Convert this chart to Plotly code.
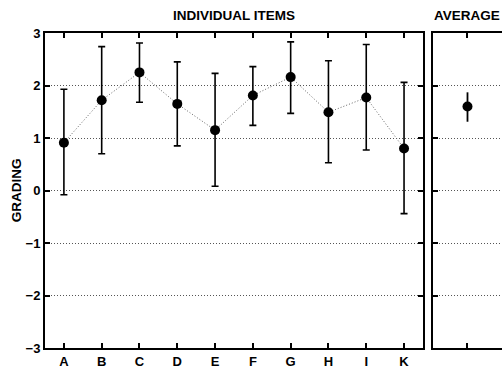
import plotly.graph_objects as go

items = ["A", "B", "C", "D", "E", "F", "G", "H", "I", "K"]
means = [0.91, 1.72, 2.25, 1.65, 1.15, 1.81, 2.16, 1.49, 1.77, 0.80]
upper = [1.93, 2.74, 2.81, 2.45, 2.23, 2.36, 2.83, 2.47, 2.78, 2.06]
lower = [-0.08, 0.70, 1.68, 0.85, 0.08, 1.24, 1.47, 0.53, 0.77, -0.44]

avg_mean = [1.60]
avg_upper = [1.87]
avg_lower = [1.31]

y_ticks = [3, 2, 1, 0, -1, -2, -3]
y_ticktext = ["3", "2", "1", "0", "\u22121", "\u22122", "\u22123"]

xpos = list(range(1, len(items) + 1))
err_plus = [u - m for u, m in zip(upper, means)]
err_minus = [m - l for m, l in zip(means, lower)]

FONT = "Liberation Sans, Arial, sans-serif"
GRID = "#555"

fig = go.Figure()
fig.add_trace(go.Scatter(
    x=xpos, y=means, mode="lines", line=dict(color="#666", width=1, dash="1px,2px"),
    hoverinfo="skip", showlegend=False, xaxis="x", yaxis="y"))
fig.add_trace(go.Scatter(
    x=xpos, y=means, mode="markers",
    marker=dict(color="black", size=10),
    error_y=dict(type="data", symmetric=False, array=err_plus, arrayminus=err_minus,
                 color="black", thickness=1.6, width=3.5),
    showlegend=False, xaxis="x", yaxis="y"))
fig.add_trace(go.Scatter(
    x=[1], y=avg_mean, mode="markers",
    marker=dict(color="black", size=10),
    error_y=dict(type="data", symmetric=False,
                 array=[avg_upper[0] - avg_mean[0]],
                 arrayminus=[avg_mean[0] - avg_lower[0]],
                 color="black", thickness=1.8, width=0),
    showlegend=False, xaxis="x2", yaxis="y2"))

axis_common = dict(showline=True, linecolor="black", linewidth=2, ticks="inside",
                   ticklen=5, tickcolor="black", tickwidth=1.5, zeroline=False)

fig.update_layout(
    width=502, height=369,
    margin=dict(l=45, r=0, t=33, b=19),
    paper_bgcolor="white", plot_bgcolor="white",
    font=dict(family=FONT, color="black", size=12),
    xaxis=dict(domain=[0, 0.827], range=[0.5, 10.5], tickvals=xpos, ticktext=items,
               mirror="ticks", showgrid=False,
               tickfont=dict(family=FONT, size=13, weight="bold"), **axis_common),
    yaxis=dict(domain=[0, 1], range=[-3, 3], tickvals=y_ticks, ticktext=y_ticktext,
               mirror="ticks", showgrid=True, gridcolor=GRID, griddash="1px,2px", gridwidth=1,
               tickfont=dict(family=FONT, size=13, weight="bold"),
               title=dict(text="GRADING", font=dict(family=FONT, size=13.5, weight="bold"), standoff=1),
               **axis_common),
    xaxis2=dict(domain=[0.849, 1], range=[0.5, 1.5], tickvals=[1], ticktext=[""],
                mirror="ticks", showgrid=False, anchor="y2", **axis_common),
    yaxis2=dict(domain=[0, 1], range=[-3, 3], tickvals=y_ticks, showticklabels=False,
                mirror=False, showgrid=True, gridcolor=GRID, griddash="1px,2px", gridwidth=1,
                anchor="x2", **axis_common),
    annotations=[
        dict(text="INDIVIDUAL ITEMS", x=0.4135, y=1, xref="paper", yref="paper",
             xanchor="center", yanchor="bottom", yshift=8, showarrow=False,
             font=dict(family=FONT, size=13.5, weight="bold")),
        dict(text="AVERAGE", x=0.924, y=1, xref="paper", yref="paper",
             xanchor="center", yanchor="bottom", yshift=8, showarrow=False,
             font=dict(family=FONT, size=13.5, weight="bold")),
    ],
)

fig.write_html("out.html", config={"displayModeBar": False},
               post_script="document.body.style.margin='0';document.body.style.overflow='hidden';")
